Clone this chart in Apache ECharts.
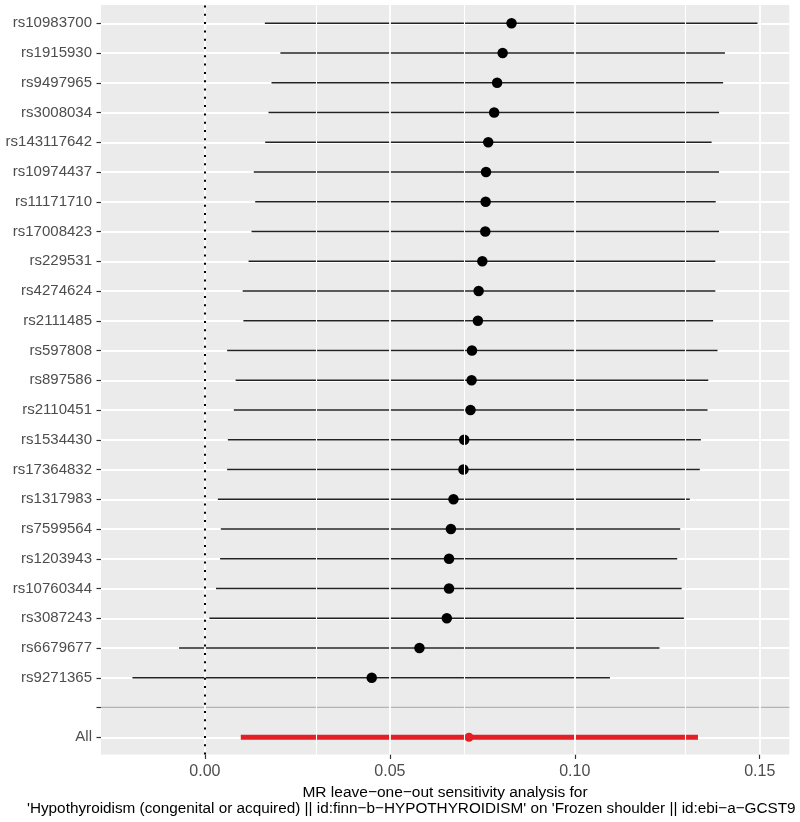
<!DOCTYPE html>
<html><head><meta charset="utf-8">
<script src="https://cdn.jsdelivr.net/npm/echarts@6/dist/echarts.min.js"></script>
<style>html,body{margin:0;padding:0;background:#fff}#c{width:800px;height:822px}</style>
</head><body><div id="c"></div>
<script>
// ---- data ----
const snps = ['rs10983700','rs1915930','rs9497965','rs3008034','rs143117642','rs10974437','rs11171710','rs17008423','rs229531','rs4274624','rs2111485','rs597808','rs897586','rs2110451','rs1534430','rs17364832','rs1317983','rs7599564','rs1203943','rs10760344','rs3087243','rs6679677','rs9271365'];
const b  = [0.0829,0.0805,0.0790,0.0782,0.0766,0.0760,0.0759,0.0758,0.0750,0.0740,0.0738,0.0722,0.0721,0.0718,0.0701,0.0699,0.0672,0.0665,0.0660,0.0660,0.0654,0.0580,0.0451];
const lo = [0.0162,0.0204,0.0180,0.0172,0.0163,0.0132,0.0136,0.0126,0.0118,0.0102,0.0104,0.0060,0.0083,0.0078,0.0062,0.0060,0.0035,0.0043,0.0041,0.0030,0.0012,-0.0070,-0.0196];
const hi = [0.1494,0.1406,0.1401,0.1390,0.1370,0.1390,0.1381,0.1390,0.1380,0.1380,0.1374,0.1386,0.1361,0.1359,0.1341,0.1338,0.1311,0.1285,0.1277,0.1289,0.1295,0.1229,0.1095];
const allLabel = 'All';
const allB = [0.0714];
const allLo = [0.0097];
const allHi = [0.1333];
const sepLabel = ' ';
const xTicks = [0, 0.05, 0.10, 0.15];
const xMinor = [-0.025, 0.025, 0.075, 0.125];
const xMin = -0.0281, xMax = 0.1580;
const titleLine1 = 'MR leave\u2212one\u2212out sensitivity analysis for';
const titleLine2 = "'Hypothyroidism (congenital or acquired) || id:finn\u2212b\u2212HYPOTHYROIDISM' on 'Frozen shoulder || id:ebi\u2212a\u2212GCST9";

// ---- derived ----
const categories = snps.concat([sepLabel, allLabel]);
const FONT = 'Liberation Sans, Arial, Helvetica, sans-serif';

function segRender(color, width) {
  return function (params, api) {
    const y = api.value(2);
    const p1 = api.coord([api.value(0), y]);
    const p2 = api.coord([api.value(1), y]);
    return { type: 'line', shape: { x1: p1[0], y1: p1[1], x2: p2[0], y2: p2[1] },
             style: { stroke: color, lineWidth: width } };
  };
}

const chart = echarts.init(document.getElementById('c'), null, { renderer: 'canvas' });
chart.setOption({
  animation: false,
  backgroundColor: '#ffffff',
  textStyle: { fontFamily: FONT },
  title: [
    { text: titleLine1, left: 445, top: 785, textAlign: 'center', padding: 0,
      textStyle: { fontSize: 15.5, fontWeight: 'normal', color: '#000', fontFamily: FONT } },
    { text: titleLine2, left: 27, top: 801, padding: 0,
      textStyle: { fontSize: 15.3, fontWeight: 'normal', color: '#000', fontFamily: FONT } }
  ],
  grid: [
    { left: 101, right: 10.7, top: 5, bottom: 67.5, show: true, backgroundColor: '#EBEBEB', borderWidth: 0 },
    { left: 101, right: 10.7, top: 23.3, bottom: 84.7, show: false }
  ],
  xAxis: [
    { type: 'value', gridIndex: 0, min: xMin, max: xMax,
      axisLine: { show: false, onZero: false },
      splitLine: { show: false },
      axisTick: { show: true, customValues: xTicks, length: 4.5, lineStyle: { color: '#333333', width: 1.2 } },
      axisLabel: { show: true, customValues: xTicks, margin: 9, fontSize: 16, color: '#4D4D4D', fontFamily: FONT,
                   formatter: v => v.toFixed(2) } },
    { type: 'value', gridIndex: 1, min: xMin, max: xMax, show: false,
      axisLine: { onZero: false }, splitLine: { show: false } }
  ],
  yAxis: [
    { type: 'value', gridIndex: 0, min: 0, max: 1, show: false,
      axisLine: { onZero: false }, splitLine: { show: false } },
    { type: 'category', gridIndex: 1, data: categories, inverse: true, boundaryGap: false,
      axisLine: { show: false, onZero: false },
      axisTick: { show: true, interval: 0, length: 4.5, lineStyle: { color: '#333333', width: 1.2 } },
      axisLabel: { show: true, interval: 0, margin: 9, fontSize: 15, color: '#4D4D4D', fontFamily: FONT },
      splitLine: { show: true, interval: 0, lineStyle: { color: '#FFFFFF', width: 1.8 } } }
  ],
  series: [
    { type: 'line', xAxisIndex: 0, yAxisIndex: 0, data: [], z: 1, silent: true,
      markLine: { symbol: 'none', silent: true, label: { show: false }, animation: false,
        lineStyle: { color: '#FFFFFF', width: 1.8, type: 'solid' },
        data: xTicks.map(v => ({ xAxis: v })) } },
    { type: 'line', xAxisIndex: 0, yAxisIndex: 0, data: [], z: 1, silent: true,
      markLine: { symbol: 'none', silent: true, label: { show: false }, animation: false,
        lineStyle: { color: '#FFFFFF', width: 1.1, type: 'solid' },
        data: xMinor.map(v => ({ xAxis: v })) } },
    { type: 'line', xAxisIndex: 0, yAxisIndex: 0, data: [], z: 2, silent: true,
      markLine: { symbol: 'none', silent: true, label: { show: false }, animation: false,
        lineStyle: { color: '#000000', width: 2, type: [2, 6.3] },
        data: [{ xAxis: 0 }] } },
    { type: 'custom', xAxisIndex: 1, yAxisIndex: 1, z: 2, silent: true,
      dimensions: [{ name: 'from', type: 'float' }, { name: 'to', type: 'float' }, { name: 'row', type: 'ordinal' }],
      encode: { x: [0, 1], y: 2 },
      renderItem: segRender('#B3B3B3', 1.5),
      data: [[xMin, xMax, sepLabel]] },
    { type: 'custom', xAxisIndex: 1, yAxisIndex: 1, z: 3, silent: true,
      dimensions: [{ name: 'lo', type: 'float' }, { name: 'hi', type: 'float' }, { name: 'snp', type: 'ordinal' }],
      encode: { x: [0, 1], y: 2 },
      renderItem: segRender('#222222', 1.5),
      data: snps.map((s, i) => [lo[i], hi[i], s]) },
    { type: 'custom', xAxisIndex: 1, yAxisIndex: 1, z: 3, silent: true,
      dimensions: [{ name: 'lo', type: 'float' }, { name: 'hi', type: 'float' }, { name: 'snp', type: 'ordinal' }],
      encode: { x: [0, 1], y: 2 },
      renderItem: segRender('#E31E24', 5),
      data: allB.map((v, i) => [allLo[i], allHi[i], allLabel]) },
    { type: 'scatter', xAxisIndex: 1, yAxisIndex: 1, z: 4, silent: true,
      symbol: 'circle', symbolSize: 10.5, itemStyle: { color: '#000000', opacity: 1 },
      data: snps.map((s, i) => [b[i], s]) },
    { type: 'scatter', xAxisIndex: 1, yAxisIndex: 1, z: 4, silent: true,
      symbol: 'circle', symbolSize: 9, itemStyle: { color: '#E31E24', opacity: 1 },
      data: allB.map(v => [v, allLabel]) }
  ]
});
</script>
</body></html>
